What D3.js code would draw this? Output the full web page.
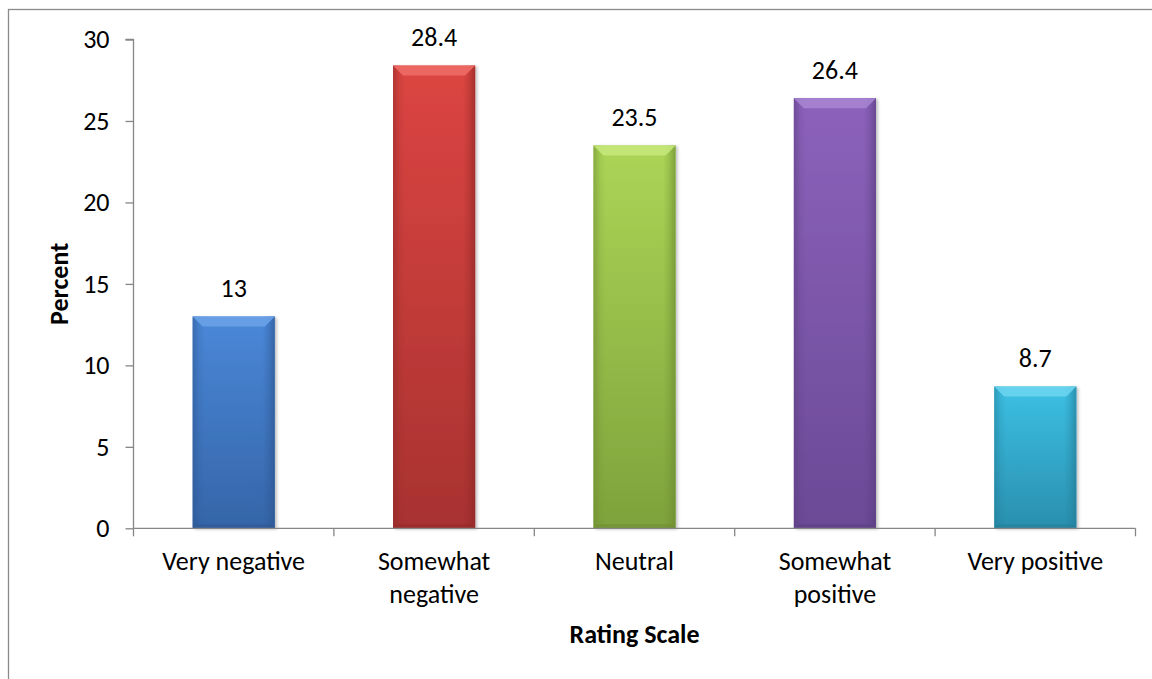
<!DOCTYPE html>
<html>
<head>
<meta charset="utf-8">
<script src="https://cdn.jsdelivr.net/npm/d3@7/dist/d3.min.js"></script>
<style>
  html, body { margin: 0; padding: 0; background: #fff; }
  svg { display: block; }
  text { font-family: Carlito, Calibri, Lato, "Open Sans", sans-serif; fill: #000; }
</style>
</head>
<body>
<svg id="chart" width="1152" height="679"></svg>
<script>
// ---- data ----
const categories = ["Very negative", "Somewhat negative", "Neutral", "Somewhat positive", "Very positive"];
const values = [13, 28.4, 23.5, 26.4, 8.7];
const yTicks = [0, 5, 10, 15, 20, 25, 30];
const xTitle = "Rating Scale";
const yTitle = "Percent";

// ---- styles ----
const barColors = [
  { top: "#4a88d8", bot: "#3565a8", bevel: "#6aa2e8", dark: "#2c5590" },
  { top: "#dc4542", bot: "#a83230", bevel: "#ee6a66", dark: "#8f2826" },
  { top: "#acd556", bot: "#7ea23c", bevel: "#c4e77a", dark: "#6b8a30" },
  { top: "#8c62bb", bot: "#6b4a96", bevel: "#a684d2", dark: "#5a3d80" },
  { top: "#3cc0e4", bot: "#2a8fae", bevel: "#6ad4f0", dark: "#227b96" }
];
const fontSize = 26;
const axisColor = "#868686";

const svg = d3.select("#chart");
const W = 1152, H = 679;
const plot = { left: 133.5, right: 1135.5, top: 39.5, bottom: 528.3 };

// outer frame
svg.append("rect").attr("x", 8.5).attr("y", 9.5).attr("width", W + 10).attr("height", H + 10)
  .attr("fill", "none").attr("stroke", "#8a8a8a").attr("stroke-width", 1.3);

const x = d3.scaleBand().domain(categories).range([plot.left, plot.right])
  .paddingInner(0.59).paddingOuter(0.295);
const y = d3.scaleLinear().domain([0, 30]).range([plot.bottom, plot.top]);

const defs = svg.append("defs");
const shadow = defs.append("filter").attr("id", "shadow").attr("x", "-20%").attr("y", "-20%").attr("width", "140%").attr("height", "140%");
shadow.append("feDropShadow").attr("dx", 2).attr("dy", 1).attr("stdDeviation", 1.5).attr("flood-color", "#000").attr("flood-opacity", 0.25);

barColors.forEach((c, i) => {
  const g = defs.append("linearGradient").attr("id", "vg" + i).attr("x1", 0).attr("y1", 0).attr("x2", 0).attr("y2", 1);
  g.append("stop").attr("offset", "0%").attr("stop-color", c.top);
  g.append("stop").attr("offset", "100%").attr("stop-color", c.bot);
  const h = defs.append("linearGradient").attr("id", "hg" + i).attr("x1", 0).attr("y1", 0).attr("x2", 1).attr("y2", 0);
  h.append("stop").attr("offset", "0%").attr("stop-color", c.dark).attr("stop-opacity", 0.55);
  h.append("stop").attr("offset", "8%").attr("stop-color", c.dark).attr("stop-opacity", 0.15);
  h.append("stop").attr("offset", "15%").attr("stop-color", c.dark).attr("stop-opacity", 0);
  h.append("stop").attr("offset", "85%").attr("stop-color", c.dark).attr("stop-opacity", 0);
  h.append("stop").attr("offset", "92%").attr("stop-color", c.dark).attr("stop-opacity", 0.25);
  h.append("stop").attr("offset", "100%").attr("stop-color", c.dark).attr("stop-opacity", 0.7);
});

// bars
const bars = svg.append("g").selectAll("g.bar").data(categories).join("g").attr("class", "bar");
bars.each(function (cat, i) {
  const g = d3.select(this);
  const x0 = x(cat), w = x.bandwidth();
  const y0 = y(values[i]), y1 = y(0);
  const b = 10;
  g.append("rect").attr("x", x0).attr("y", y0).attr("width", w).attr("height", y1 - y0)
    .attr("fill", `url(#vg${i})`).attr("filter", "url(#shadow)");
  g.append("rect").attr("x", x0).attr("y", y0).attr("width", w).attr("height", y1 - y0)
    .attr("fill", `url(#hg${i})`);
  g.append("polygon")
    .attr("points", [[x0, y0], [x0 + w, y0], [x0 + w - b, y0 + b], [x0 + b, y0 + b]].map(p => p.join(",")).join(" "))
    .attr("fill", barColors[i].bevel).attr("opacity", 0.9);
  g.append("polygon")
    .attr("points", [[x0, y1], [x0 + w, y1], [x0 + w - 4, y1 - 4], [x0 + 4, y1 - 4]].map(p => p.join(",")).join(" "))
    .attr("fill", barColors[i].dark).attr("opacity", 0.5);
});

// value labels
svg.append("g").selectAll("text").data(categories).join("text")
  .attr("x", d => x(d) + x.bandwidth() / 2)
  .attr("y", (d, i) => y(values[i]) - 19.5)
  .attr("text-anchor", "middle")
  .style("font-size", fontSize + "px")
  .text((d, i) => String(values[i]));

// y axis
const yAxis = svg.append("g").attr("transform", `translate(${plot.left},0)`)
  .call(d3.axisLeft(y).tickValues(yTicks).tickSize(8).tickPadding(16).tickFormat(d3.format("d")));
yAxis.selectAll("line, path").attr("stroke", axisColor).attr("stroke-width", 1.3);
yAxis.selectAll("text").style("font-size", fontSize + "px").style("font-family", null).attr("fill", "#000");
yAxis.select(".domain").attr("d", `M-8,${plot.top}H0V${plot.bottom}`);

// x axis
const xAxis = svg.append("g").attr("transform", `translate(0,${plot.bottom})`)
  .call(d3.axisBottom(x).tickSize(0).tickPadding(0));
xAxis.select(".domain").attr("d", `M${plot.left},0H${plot.right}`).attr("stroke", axisColor).attr("stroke-width", 1.3);
const step = x.step();
xAxis.append("g").selectAll("line").data(d3.range(categories.length + 1)).join("line")
  .attr("x1", i => plot.left + i * step).attr("x2", i => plot.left + i * step)
  .attr("y1", 0).attr("y2", 8).attr("stroke", axisColor).attr("stroke-width", 1.3);
xAxis.selectAll(".tick text")
  .style("font-size", fontSize + "px").style("font-family", null).attr("fill", "#000")
  .attr("y", 0).attr("dy", null)
  .each(function (d) {
    const t = d3.select(this);
    const words = d.split(" ");
    t.text(null);
    t.append("tspan").attr("x", 0).attr("y", 0).text(d);
    if (this.getComputedTextLength() > step - 30 && words.length > 1) {
      t.text(null);
      const lines = [words.slice(0, -1).join(" "), words[words.length - 1]];
      lines.forEach((ln, k) => t.append("tspan").attr("x", 0).attr("y", 42 + k * 33).text(ln));
    } else {
      t.select("tspan").attr("y", 42);
    }
  });

// axis titles
svg.append("text").attr("x", (plot.left + plot.right) / 2).attr("y", 643)
  .attr("text-anchor", "middle").style("font-size", fontSize + "px").style("font-weight", "bold").text(xTitle);
svg.append("text").attr("transform", `translate(68,${(plot.top + plot.bottom) / 2}) rotate(-90)`)
  .attr("text-anchor", "middle").style("font-size", fontSize + "px").style("font-weight", "bold").text(yTitle);
</script>
</body>
</html>
